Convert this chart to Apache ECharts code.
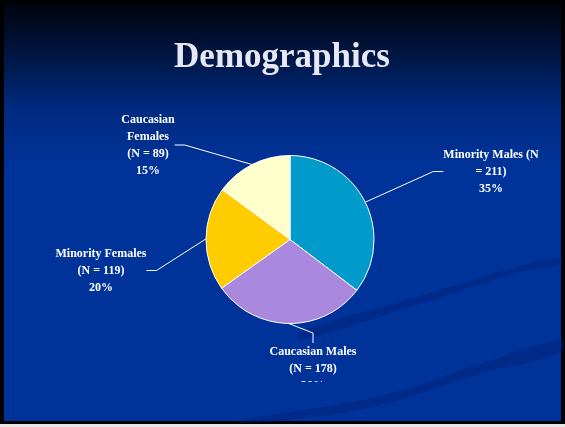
<!DOCTYPE html>
<html>
<head>
<meta charset="utf-8">
<script src="https://cdn.jsdelivr.net/npm/echarts@6/dist/echarts.min.js"></script>
<style>html,body{margin:0;padding:0;background:#000;}#c{width:565px;height:427px;}</style>
</head>
<body>
<div id="c"></div>
<script>
const categories = ['Minority Males', 'Caucasian Males', 'Minority Females', 'Caucasian Females'];
const counts = [211, 178, 119, 89];
const percentLabels = ['35%', '30%', '20%', '15%'];
const labelTexts = [
  'Minority Males (N\n= 211)\n35%',
  'Caucasian Males\n(N = 178)\n30%',
  'Minority Females\n(N = 119)\n20%',
  'Caucasian\nFemales\n(N = 89)\n15%'
];
const colors = ['#009acb', '#aa88dd', '#ffcc00', '#ffffcc'];

// label layout anchors (centre-x, top-y) in px
const labelAnchors = [[491, 146], [313, 343], [101, 245], [148, 111]];

const chart = echarts.init(document.getElementById('c'), null, {renderer: 'canvas'});
const bgGrad = {type: 'linear', x: 0, y: 0, x2: 0, y2: 1, colorStops: [
  {offset: 0, color: '#00040c'},
  {offset: 0.12, color: '#001540'},
  {offset: 0.25, color: '#002a80'},
  {offset: 0.4, color: '#00339a'},
  {offset: 1, color: '#00339a'}
]};
const swoosh = 'rgba(0,30,120,0.45)';
chart.setOption({
  backgroundColor: '#000',
  animation: false,
  graphic: [
    {type: 'rect', z: -10, shape: {x: 4, y: 3, width: 557, height: 418}, style: {fill: bgGrad}},
    {type: 'rect', z: -10, shape: {x: 0, y: 424, width: 565, height: 3}, style: {fill: '#e6e6e6'}},
    {type: 'polygon', z: -9, shape: {smooth: 0.4, points: [[300, 332], [420, 296], [520, 266], [561, 258], [561, 264], [520, 272], [420, 304], [300, 340]]}, style: {fill: swoosh}},
    {type: 'polygon', z: -9, shape: {smooth: 0.4, points: [[240, 421], [380, 396], [480, 364], [561, 340], [561, 352], [480, 374], [380, 405], [280, 421]]}, style: {fill: swoosh}},
    {type: 'rect', z: 100, shape: {x: 296, y: 382, width: 36, height: 12}, style: {fill: '#00339a'}},
    {type: 'text', z: 10, style: {text: 'Demographics', x: 282, y: 58, align: 'center', verticalAlign: 'middle',
      font: 'bold 35px "Liberation Serif", serif', fill: '#e8e8f4', shadowColor: 'rgba(0,0,0,0.9)', shadowOffsetX: 2, shadowOffsetY: 2, shadowBlur: 2}}
  ],
  series: [{
    type: 'pie',
    center: [290, 239.5],
    radius: [0, 84],
    startAngle: 90,
    clockwise: true,
    avoidLabelOverlap: false,
    color: colors,
    itemStyle: {borderColor: '#ffffff', borderWidth: 1},
    label: {
      show: true,
      position: 'outside',
      formatter: p => labelTexts[p.dataIndex],
      color: '#ffffff',
      fontFamily: '"Liberation Serif", serif',
      fontWeight: 'bold',
      fontSize: 12,
      lineHeight: 17,
      align: 'center'
    },
    labelLine: {show: true, length: 20, length2: 10, lineStyle: {color: '#ffffff', width: 1}},
    labelLayout: function (params) {
      const a = labelAnchors[params.dataIndex];
      return {x: a[0], y: a[1], align: 'center', verticalAlign: 'top'};
    },
    emphasis: {disabled: true},
    data: categories.map((c, i) => ({name: c, value: counts[i]}))
  }]
});
</script>
</body>
</html>
